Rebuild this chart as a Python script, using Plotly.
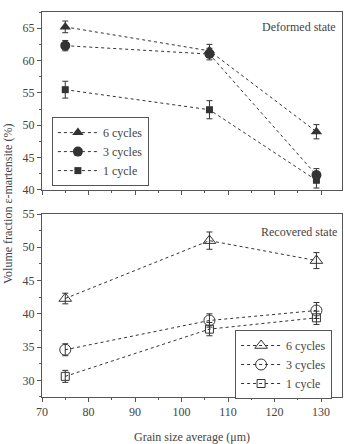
import plotly.graph_objects as go

grain = [75, 106, 129]
labels = ["6 cycles", "3 cycles", "1 cycle"]

def_vals = {"6 cycles": [65.2, 61.5, 49.0], "3 cycles": [62.3, 61.0, 42.3], "1 cycle": [55.5, 52.4, 41.5]}
def_err = {"6 cycles": [0.9, 1.0, 1.1], "3 cycles": [0.8, 0.9, 1.0], "1 cycle": [1.3, 1.4, 1.2]}
rec_vals = {"6 cycles": [42.3, 51.0, 48.0], "3 cycles": [34.6, 39.0, 40.5], "1 cycle": [30.6, 37.7, 39.4]}
rec_err = {"6 cycles": [0.8, 1.3, 1.2], "3 cycles": [0.9, 1.0, 1.2], "1 cycle": [0.9, 1.0, 1.0]}

filled = {"6 cycles": "triangle-up", "3 cycles": "circle", "1 cycle": "square"}
opened = {"6 cycles": "triangle-up-open", "3 cycles": "circle-open", "1 cycle": "square-open"}
sizes = {"6 cycles": 10, "3 cycles": 10, "1 cycle": 7}

ink = "#333333"
font = "Liberation Serif, Times New Roman, serif"
fig = go.Figure()

for lab in labels:
    fig.add_trace(go.Scatter(
        x=grain, y=def_vals[lab], name=lab, mode="lines+markers",
        line=dict(color=ink, width=1, dash="dot"),
        marker=dict(symbol=filled[lab], size=sizes[lab], color=ink),
        error_y=dict(type="data", array=def_err[lab], color=ink, thickness=1, width=3),
        xaxis="x", yaxis="y", legend="legend"))
for lab in labels:
    fig.add_trace(go.Scatter(
        x=grain, y=rec_vals[lab], name=lab, mode="lines+markers",
        line=dict(color=ink, width=1, dash="dot"),
        marker=dict(symbol=opened[lab], size=sizes[lab] + 1, color=ink, line=dict(width=1)),
        error_y=dict(type="data", array=rec_err[lab], color=ink, thickness=1, width=3),
        xaxis="x2", yaxis="y2", legend="legend2"))

axis_common = dict(showline=True, linecolor="#555555", linewidth=1, mirror=True,
                   ticks="outside", ticklen=4, tickcolor="#555555", showgrid=False, zeroline=False,
                   tickfont=dict(family=font, size=12, color="#444444"))

fig.update_layout(
    width=344, height=444,
    margin=dict(l=42, r=2, t=12, b=47),
    paper_bgcolor="white", plot_bgcolor="white",
    font=dict(family=font, color="#444444"),
    xaxis=dict(range=[70, 134.5], dtick=10, showticklabels=False, anchor="y",
               minor=dict(dtick=5, ticks="outside", ticklen=2, tickcolor="#555555"), **axis_common),
    yaxis=dict(range=[40, 67.5], dtick=5, domain=[0.5377, 1], anchor="x",
               minor=dict(dtick=2.5, ticks="outside", ticklen=2, tickcolor="#555555"), **axis_common),
    xaxis2=dict(range=[70, 134.5], dtick=10, anchor="y2",
                minor=dict(dtick=5, ticks="outside", ticklen=2, tickcolor="#555555"),
                title=dict(text="Grain size average (μm)", font=dict(family=font, size=12, color="#444444"), standoff=14),
                **axis_common),
    yaxis2=dict(range=[27.5, 55], dtick=5, domain=[0, 0.4753], anchor="x2",
                minor=dict(dtick=2.5, ticks="outside", ticklen=2, tickcolor="#555555"), **axis_common),
    legend=dict(x=0.033, y=0.727, xanchor="left", yanchor="top", xref="paper", yref="paper",
                bordercolor="#555555", borderwidth=1, bgcolor="white",
                font=dict(family=font, size=12, color="#444444"), tracegroupgap=0, itemwidth=40),
    legend2=dict(x=0.967, y=0.174, xanchor="right", yanchor="top",
                 bordercolor="#555555", borderwidth=1, bgcolor="white",
                 font=dict(family=font, size=12, color="#444444"), tracegroupgap=0, itemwidth=40),
    annotations=[
        dict(text="Deformed state", x=0.985, y=0.984, xref="paper", yref="paper", xanchor="right", yanchor="top",
             showarrow=False, font=dict(family=font, size=12, color="#444444")),
        dict(text="Recovered state", x=0.99, y=0.452, xref="paper", yref="paper", xanchor="right", yanchor="top",
             showarrow=False, font=dict(family=font, size=12, color="#444444")),
        dict(text="Volume fraction ε-martensite (%)", x=-0.115, y=0.5, xref="paper", yref="paper",
             textangle=-90, showarrow=False, xanchor="center", yanchor="middle",
             font=dict(family=font, size=12, color="#444444")),
    ],
)

fig.write_html("out.html")
